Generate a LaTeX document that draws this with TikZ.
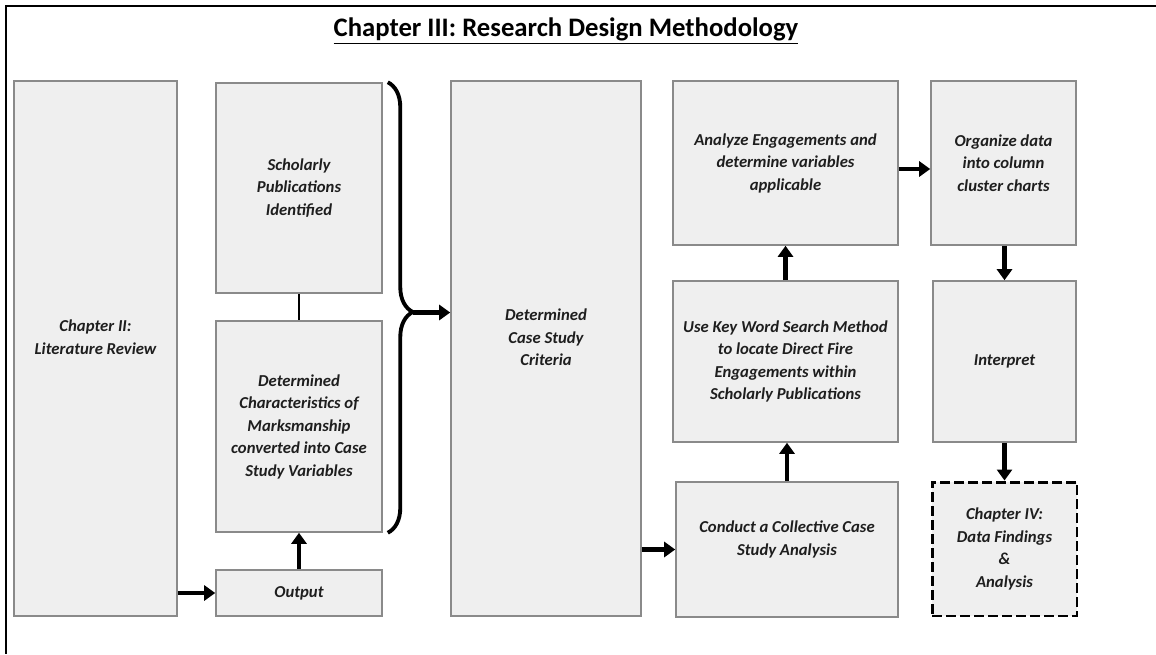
\documentclass[tikz,border=0pt]{standalone}
\usepackage{fontspec}
\setmainfont{Carlito}
\usetikzlibrary{arrows.meta,decorations.pathreplacing}

\definecolor{boxfill}{HTML}{EFEFEF}
\definecolor{boxline}{HTML}{8A8A8A}
\definecolor{inktext}{HTML}{1E1E1E}

\tikzset{
  stage/.style={draw=boxline, line width=0.9pt, fill=boxfill, inner sep=0pt,
    align=center, text=inktext, font=\fontsize{9.5}{12.8}\selectfont\bfseries\itshape},
  endstage/.style={stage, draw=black, line width=1.7pt, dash pattern=on 0.2cm off 0.08cm},
  flow/.style={line width=2.3pt, -{Triangle[length=0.22cm,width=0.3cm]}},
}

\begin{document}
\begin{tikzpicture}[x=0.02cm, y=-0.02cm]
    \useasboundingbox (0,0) rectangle (1156,654);
    \draw [line width=1.2pt] (1156,6) -- (6,6) -- (6,654);
    \node [font=\fontsize{15.2}{17}\selectfont\bfseries] (title) at (566,31) {\underline{Chapter III: Research Design Methodology}};

    \node [stage, minimum width=3.26cm, minimum height=10.7cm] (lit) at (95.5,348.5) {Chapter II:\\Literature Review\\\mbox{}};
    \node [stage, minimum width=3.32cm, minimum height=4.2cm] (schol) at (299,188) {Scholarly\\Publications\\Identified};
    \node [stage, minimum width=3.32cm, minimum height=4.22cm] (charac) at (299,426.5) {Determined\\Characteristics of\\Marksmanship\\converted into Case\\Study Variables};
    \node [stage, minimum width=3.32cm, minimum height=0.92cm] (output) at (299,593) {Output};
    \node [stage, minimum width=3.8cm, minimum height=10.7cm] (crit) at (546,348.5) {Determined\\Case Study\\Criteria\\\mbox{}};
    \node [stage, minimum width=4.5cm, minimum height=3.28cm] (analyze) at (785.5,163) {Analyze Engagements and\\determine variables\\applicable};
    \node [stage, minimum width=2.9cm, minimum height=3.28cm] (organize) at (1003.5,163) {Organize data\\into column\\cluster charts};
    \node [stage, minimum width=4.5cm, minimum height=3.22cm] (usekey) at (785.5,361.5) {Use Key Word Search Method\\to locate Direct Fire\\Engagements within\\Scholarly Publications};
    \node [stage, minimum width=2.86cm, minimum height=3.22cm] (interp) at (1004.5,361.5) {Interpret};
    \node [stage, minimum width=4.44cm, minimum height=2.7cm] (conduct) at (787,549.5) {Conduct a Collective Case\\Study Analysis\\\mbox{}};
    \node [endstage, minimum width=2.9cm, minimum height=2.68cm] (chfour) at (1004.5,549) {Chapter IV:\\Data Findings\\\&\\Analysis};

    \draw [line width=1.2pt] (schol.south) -- (charac.north);
    \draw [line width=2.2pt, decorate, decoration={brace, amplitude=0.5cm, aspect=0.51}]
        ([xshift=0.1cm]schol.north east) -- ([xshift=0.1cm]charac.south east);
    \coordinate (bracetip) at (413,312.5);

    \draw [flow] (lit.east |- output) -- (output.west);
    \draw [flow] (output.north) -- (charac.south);
    \draw [flow] (bracetip) -- (bracetip -| crit.west);
    \draw [flow] (crit.east |- conduct) -- (conduct.west);
    \draw [flow] (conduct.north) -- (conduct.north |- usekey.south);
    \draw [flow] (usekey.north) -- (analyze.south);
    \draw [flow] ([yshift=-0.12cm]analyze.east) -- ([yshift=-0.12cm]organize.west);
    \draw [flow] (interp.north |- organize.south) -- (interp.north);
    \draw [flow] (interp.south) -- (chfour.north);
\end{tikzpicture}
\end{document}
